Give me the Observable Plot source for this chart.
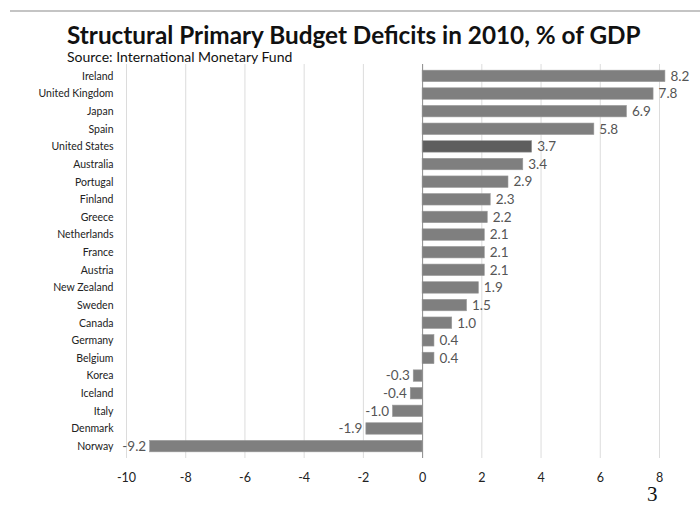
<!DOCTYPE html>
<html><head><meta charset="utf-8">
<script src="https://cdn.jsdelivr.net/npm/d3@7"></script>
<script src="https://cdn.jsdelivr.net/npm/@observablehq/plot@0.6"></script>
<style>
body{margin:0;background:#fff;font-family:Lato,"Open Sans",sans-serif;}
#wrap{position:relative;width:700px;height:508px;overflow:hidden;}
#topline{position:absolute;left:10px;top:10px;width:690px;height:2px;background:#c4c4c4;}
#title{position:absolute;left:67px;top:20px;font-size:24.3px;font-weight:700;color:#111;white-space:nowrap;}
#sub{position:absolute;left:67px;top:48px;font-size:14px;color:#111;white-space:nowrap;}
#page{position:absolute;left:647px;top:482px;font-family:"Liberation Serif",serif;font-size:21px;color:#111;}
#chart{position:absolute;left:0;top:0;}
</style></head>
<body><div id="wrap"><div id="chart"></div><div id="topline"></div>
<div id="title">Structural Primary Budget Deficits in 2010, % of GDP</div>
<div id="sub">Source: International Monetary Fund</div>
<div id="page">3</div></div>
<script>
const countries = ["Ireland","United Kingdom","Japan","Spain","United States","Australia","Portugal","Finland","Greece","Netherlands","France","Austria","New Zealand","Sweden","Canada","Germany","Belgium","Korea","Iceland","Italy","Denmark","Norway"];
const deficits = [8.2,7.8,6.9,5.8,3.7,3.4,2.9,2.3,2.2,2.1,2.1,2.1,1.9,1.5,1.0,0.4,0.4,-0.3,-0.4,-1.0,-1.9,-9.2];
const highlight = "United States";
const xTicks = [-10,-8,-6,-4,-2,0,2,4,6,8];

const data = countries.map((c,i)=>({country:c, value:deficits[i]}));

const chart = Plot.plot({
  width:700, height:508,
  marginLeft:126, marginRight:41, marginTop:64, marginBottom:50,
  style:{fontFamily:"Lato, 'Open Sans', sans-serif", background:"transparent"},
  x:{domain:[-10,8], ticks:xTicks, grid:false, label:null},
  y:{domain:countries, padding:0.35, round:false, label:null},
  marks:[
    Plot.ruleX(xTicks.filter(d=>d!==0), {stroke:"#dcdcdc", strokeWidth:1}),
    Plot.barX(data, {y:"country", x:"value", fill:d=>d.country===highlight?"#5e5e5e":"#7f7f7f", stroke:"#9a9a9a", strokeWidth:0.6}),
    Plot.ruleX([0], {stroke:"#8a8a8a", strokeWidth:1}),
    Plot.text(data.filter(d=>d.value>=0), {y:"country", x:"value", text:d=>d.value.toFixed(1), textAnchor:"start", dx:5, fill:"#555", fontSize:13.5}),
    Plot.text(data.filter(d=>d.value<0), {y:"country", x:"value", text:d=>d.value.toFixed(1), textAnchor:"end", dx:-4, fill:"#555", fontSize:13.5}),
    Plot.axisY({tickSize:0, tickPadding:13, fontSize:10.5, color:"#222", label:null}),
    Plot.axisX({ticks:xTicks, tickSize:0, tickPadding:15, fontSize:12.5, color:"#222", label:null, tickFormat:d=>String(d)})
  ]
});
document.getElementById("chart").appendChild(chart);
</script></body></html>
